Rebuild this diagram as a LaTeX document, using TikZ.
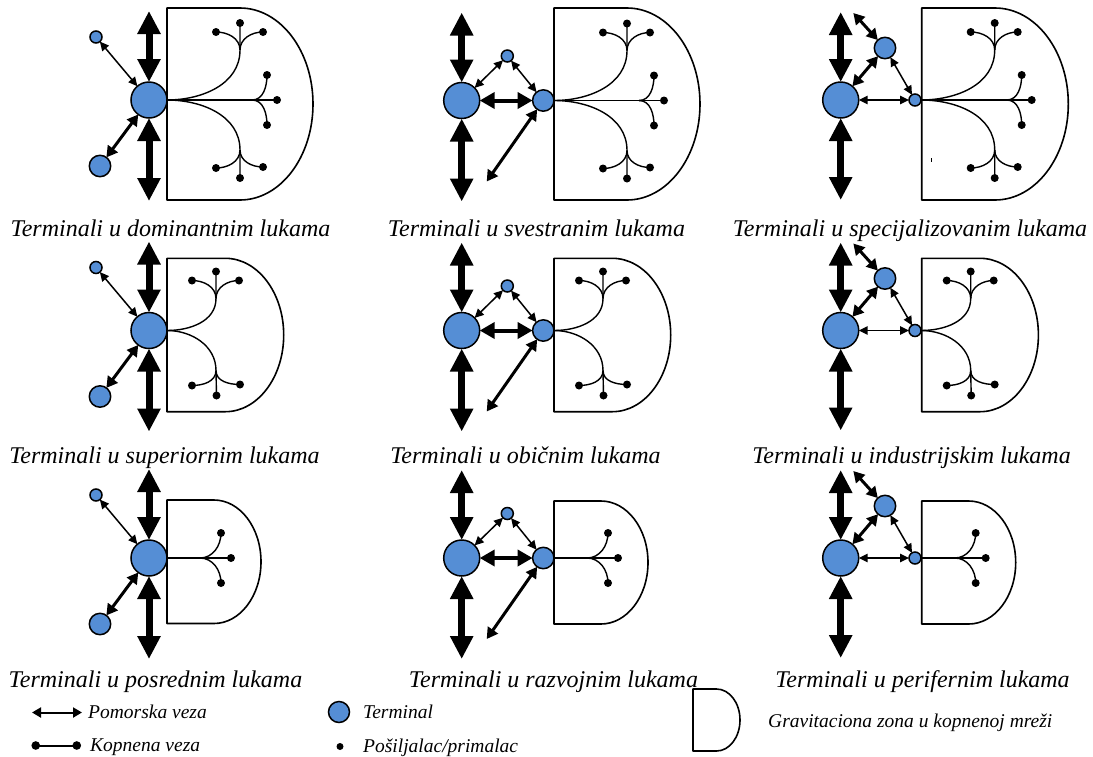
\documentclass[tikz,border=0pt]{standalone}
\usepackage{fontspec}
\setmainfont{Liberation Serif}
\usetikzlibrary{arrows.meta}
\definecolor{tblue}{RGB}{85,142,213}
\tikzset{
 term/.style={circle,draw=black,line width=1.5pt,fill=tblue,inner sep=0pt,outer sep=0pt},
 bigT/.style={term,minimum size=36pt},
 midT/.style={term,minimum size=21.4pt},
 smlT/.style={term,minimum size=12pt},
 dot/.style={circle,fill=black,inner sep=0pt,minimum size=8pt},
 tree/.style={line width=1.4pt},
 zoneline/.style={line width=1.6pt,line join=round},
 seaarrow/.style={line width=7pt,arrows={Triangle[width=22pt,length=23pt]-Triangle[width=22pt,length=23pt]}},
 medarrow/.style={line width=3pt,arrows={Triangle[width=12pt,length=11pt]-Triangle[width=12pt,length=11pt]}},
 widearrow/.style={line width=4pt,arrows={Triangle[width=16pt,length=15pt]-Triangle[width=16pt,length=15pt]}},
 thinarrow/.style={line width=1.5pt,arrows={Triangle[width=8.5pt,length=9pt]-Triangle[width=8.5pt,length=9pt]}},
 legsea/.style={line width=2pt,arrows={Triangle[width=10pt,length=9pt]-Triangle[width=10pt,length=9pt]}},
 legland/.style={line width=2pt,arrows={Circle[length=8.5pt]-Circle[length=8.5pt]}},
 caption/.style={font=\fontsize{24}{28}\selectfont\itshape,inner sep=0pt,anchor=base},
 legtext/.style={font=\fontsize{19.5}{22}\selectfont\itshape,inner sep=0pt,anchor=base west},
}
% D-shaped gravitation zone: left, top, width, height (pixels, y downwards)
\newcommand{\Dzone}[4]{%
 \draw[zoneline] (#1,-#2) -- ({#1+#3/2},-#2)
   .. controls ({#1+#3/2+0.5523*#3/2},-#2) and ({#1+#3},{-#2-#4/2+0.5523*#4/2}) .. ({#1+#3},{-#2-#4/2})
   .. controls ({#1+#3},{-#2-#4/2-0.5523*#4/2}) and ({#1+#3/2+0.5523*#3/2},{-#2-#4}) .. ({#1+#3/2},{-#2-#4})
   -- (#1,{-#2-#4}) -- cycle;}
% trees: prefix, source node, left of zone, centre y
\newcommand{\treeA}[4]{%
 \begin{scope}[shift={(#3,-#4)}]
 \coordinate (#1uj) at (73,50);
 \node[dot] (#1u1) at (49,68) {};
 \node[dot] (#1u2) at (73,77) {};
 \node[dot] (#1u3) at (96,68) {};
 \coordinate (#1mj) at (85,0);
 \node[dot] (#1m1) at (100,25) {};
 \node[dot] (#1m2) at (110,0) {};
 \node[dot] (#1m3) at (100,-25) {};
 \coordinate (#1lj) at (73,-50);
 \node[dot] (#1l1) at (49,-68) {};
 \node[dot] (#1l2) at (73,-78) {};
 \node[dot] (#1l3) at (96,-67) {};
 \draw[tree] (#2.east) to[out=0,in=-90] (#1uj) -- (#1u2.center);
 \draw[tree] (#1uj) to[out=90,in=0] (#1u1.center);
 \draw[tree] (#1uj) to[out=90,in=180] (#1u3.center);
 \draw[tree] (#2.east) -- (#1m2.center);
 \draw[tree] (#1mj) to[out=0,in=-90] (#1m1.center);
 \draw[tree] (#1mj) to[out=0,in=90] (#1m3.center);
 \draw[tree] (#2.east) to[out=0,in=90] (#1lj) -- (#1l2.center);
 \draw[tree] (#1lj) to[out=-90,in=0] (#1l1.center);
 \draw[tree] (#1lj) to[out=-90,in=180] (#1l3.center);
 \end{scope}}
\newcommand{\treeB}[4]{%
 \begin{scope}[shift={(#3,-#4)}]
 \coordinate (#1uj) at (49,32);
 \node[dot] (#1u1) at (25,50) {};
 \node[dot] (#1u2) at (49,59) {};
 \node[dot] (#1u3) at (72,50) {};
 \coordinate (#1lj) at (49,-40);
 \node[dot] (#1l1) at (25,-55) {};
 \node[dot] (#1l2) at (49.5,-65) {};
 \node[dot] (#1l3) at (73,-54) {};
 \draw[tree] (#2.east) to[out=0,in=-90] (#1uj) -- (#1u2.center);
 \draw[tree] (#1uj) to[out=90,in=0] (#1u1.center);
 \draw[tree] (#1uj) to[out=90,in=180] (#1u3.center);
 \draw[tree] (#2.east) to[out=0,in=90] (#1lj) -- (#1l2.center);
 \draw[tree] (#1lj) to[out=-90,in=0] (#1l1.center);
 \draw[tree] (#1lj) to[out=-90,in=180] (#1l3.center);
 \end{scope}}
\newcommand{\treeC}[4]{%
 \begin{scope}[shift={(#3,-#4)}]
 \coordinate (#1mj) at (33,0);
 \node[dot] (#1m1) at (54,25) {};
 \node[dot] (#1m2) at (64,0) {};
 \node[dot] (#1m3) at (54,-25) {};
 \draw[tree] (#2.east) -- (#1m2.center);
 \draw[tree] (#1mj) to[out=0,in=-90] (#1m1.center);
 \draw[tree] (#1mj) to[out=0,in=90] (#1m3.center);
 \end{scope}}
% column layouts: prefix, centre y
\newcommand{\colA}[2]{%
 \node[bigT] (#1T) at (149,-#2) {};
 \node[smlT] (#1a) at (96,{-#2+63}) {};
 \node[midT] (#1b) at (100,{-#2-66}) {};
 \coordinate (#1n) at (149,{-#2+89});
 \coordinate (#1s) at (149,{-#2-101});
 \draw[seaarrow] (#1n) -- (#1T);
 \draw[seaarrow] (#1T) -- (#1s);
 \draw[thinarrow] (#1a) -- (#1T);
 \draw[medarrow] (#1b) -- (#1T);}
\newcommand{\colB}[2]{%
 \node[bigT] (#1T) at (461.7,-#2) {};
 \node[midT] (#1t) at (543.3,-#2) {};
 \node[smlT] (#1a) at (507.3,{-#2+44.5}) {};
 \coordinate (#1f) at (486.7,{-#2-81});
 \coordinate (#1n) at (461.7,{-#2+88});
 \coordinate (#1s) at (461.7,{-#2-101});
 \draw[seaarrow] (#1n) -- (#1T);
 \draw[seaarrow] (#1T) -- (#1s);
 \draw[widearrow] (#1T) -- (#1t);
 \draw[thinarrow] (#1T) -- (#1a);
 \draw[thinarrow] (#1a) -- (#1t);
 \draw[medarrow] (#1t) -- (#1f);}
\newcommand{\colC}[2]{%
 \node[bigT] (#1T) at (840.7,-#2) {};
 \node[smlT] (#1t) at (915,-#2) {};
 \node[midT] (#1a) at (885,{-#2+52}) {};
 \coordinate (#1f) at (853.3,{-#2+87});
 \coordinate (#1n) at (840.7,{-#2+88});
 \coordinate (#1s) at (840.7,{-#2-100});
 \draw[seaarrow] (#1n) -- (#1T);
 \draw[seaarrow] (#1T) -- (#1s);
 \draw[thinarrow] (#1T) -- (#1t);
 \draw[medarrow] (#1a) -- (#1f);
 \draw[medarrow] (#1a) -- (#1T);
 \draw[thinarrow] (#1a) -- (#1t);}
\begin{document}
\begin{tikzpicture}[x=1pt,y=1pt]
\useasboundingbox (0,0) rectangle (1093,-756);
% ---- row 1
\Dzone{167}{8}{146}{192}
\Dzone{554}{8}{146}{192}
\Dzone{921.7}{8}{146.6}{192}
\colA{p11}{100}
\colB{p12}{100.5}
\colC{p13}{100}
\treeA{r11}{p11T}{167}{100}
\treeA{r12}{p12t}{554}{100.5}
\treeA{r13}{p13t}{921.7}{100}
\draw[line width=0.8pt] (931.7,-158) -- (931.7,-162);
% ---- row 2
\Dzone{167}{258.3}{116.7}{153.4}
\Dzone{554}{258.3}{116.7}{153.4}
\Dzone{921.7}{258.3}{116.7}{153.4}
\colA{p21}{330.5}
\colB{p22}{330.5}
\colC{p23}{330.5}
\treeB{r21}{p21T}{167}{330.5}
\treeB{r22}{p22t}{554}{330.5}
\treeB{r23}{p23t}{921.7}{330.5}
% ---- row 3
\Dzone{167}{500}{94}{123.5}
\Dzone{554}{501}{94}{123}
\Dzone{921.7}{501}{94}{123}
\colA{p31}{558}
\colB{p32}{558}
\colC{p33}{558}
\treeC{r31}{p31T}{167}{558}
\treeC{r32}{p32t}{554}{558}
\treeC{r33}{p33t}{921.7}{558}
% ---- captions
\node[caption] (c11) at (170.5,-236) {Terminali u dominantnim lukama};
\node[caption] (c12) at (536.5,-236) {Terminali u svestranim lukama};
\node[caption] (c13) at (910,-236) {Terminali u specijalizovanim lukama};
\node[caption] (c21) at (164.5,-463) {Terminali u superiornim lukama};
\node[caption] (c22) at (525.5,-463) {Terminali u običnim lukama};
\node[caption] (c23) at (911.5,-463) {Terminali u industrijskim lukama};
\node[caption] (c31) at (155.5,-687) {Terminali u posrednim lukama};
\node[caption] (c32) at (553.5,-687) {Terminali u razvojnim lukama};
\node[caption] (c33) at (922.5,-687) {Terminali u perifernim lukama};
% ---- legend
\coordinate (ls1) at (32,-712.5);
\coordinate (ls2) at (82,-712.5);
\draw[legsea] (ls1) -- (ls2);
\node[legtext] (lt1) at (88,-718) {Pomorska veza};
\coordinate (ll1) at (31.5,-745.5);
\coordinate (ll2) at (81,-745.5);
\draw[legland] (ll1) -- (ll2);
\node[legtext] (lt2) at (90,-751) {Kopnena veza};
\node[term,minimum size=21pt] (lterm) at (339,-712) {};
\node[legtext] (lt3) at (363,-718) {Terminal};
\node[dot,minimum size=7pt] (ldot) at (340,-746.5) {};
\node[legtext] (lt4) at (363,-752) {Pošiljalac/primalac};
\Dzone{693}{689}{47}{62}
\node[legtext] (lt5) at (768,-727) {Gravitaciona zona u kopnenoj mreži};
\end{tikzpicture}
\end{document}
